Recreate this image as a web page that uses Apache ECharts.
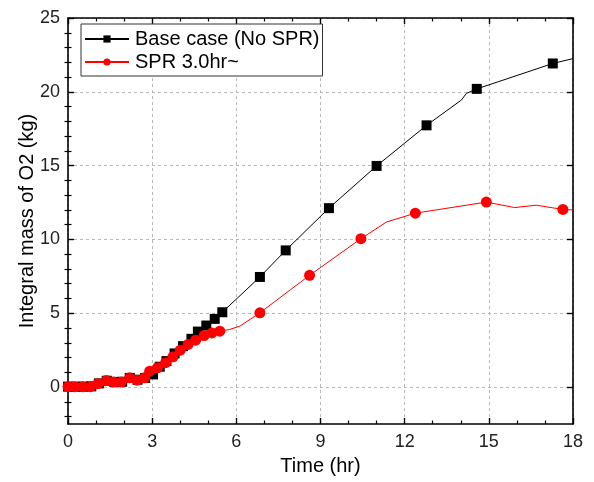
<!DOCTYPE html>
<html>
<head>
<meta charset="utf-8">
<script src="https://cdn.jsdelivr.net/npm/echarts@6/dist/echarts.min.js"></script>
<style>html,body{margin:0;padding:0;background:#fff}#c{width:594px;height:482px}</style>
</head>
<body>
<div id="c"></div>
<script>
// ---- data (time in hr, mass in kg) ----
var baseMarkTime = [0.00,0.27,0.55,0.83,1.10,1.38,1.65,1.93,2.20,2.48,2.75,3.03,3.27,3.51,3.80,4.10,4.40,4.63,4.93,5.23,5.50,6.84,7.76,9.30,11.00,12.78,14.57,17.28];
var baseMarkMass = [0.03,0.03,0.03,0.05,0.25,0.43,0.35,0.36,0.62,0.50,0.62,0.86,1.38,1.76,2.28,2.77,3.27,3.76,4.17,4.62,5.07,7.46,9.26,12.12,14.98,17.73,20.20,21.92];
var baseCurveTime = [14.02,14.20,14.97,18.00];
var baseCurveMass = [19.44,19.89,20.45,22.25];

var sprMarkTime = [0.00,0.24,0.53,0.80,1.07,1.37,1.63,1.90,2.20,2.46,2.73,2.91,3.19,3.48,3.74,4.00,4.28,4.55,4.85,5.13,5.41,6.84,8.61,10.44,12.38,14.91,17.64];
var sprMarkMass = [0.03,0.03,0.03,0.03,0.23,0.45,0.34,0.34,0.63,0.47,0.63,1.08,1.31,1.65,2.05,2.50,2.89,3.18,3.49,3.67,3.79,5.03,7.57,10.05,11.78,12.53,12.03];
var sprCurveTime = [5.75,6.12,11.35,15.92,16.69,18.00];
var sprCurveMass = [3.90,4.12,11.18,12.16,12.32,12.00];

var seriesNames = ['Base case (No SPR)', 'SPR 3.0hr~'];
var yTicks = [0,5,10,15,20,25];
var yMinorTicks = [-2,-1,1,2,3,4,6,7,8,9,11,12,13,14,16,17,18,19,21,22,23,24];

function build(mt, mm, ct, cm) {
  var pts = [];
  for (var i = 0; i < mt.length; i++) pts.push({value: [mt[i], mm[i]]});
  for (var j = 0; j < ct.length; j++) pts.push({value: [ct[j], cm[j]], symbol: 'none'});
  pts.sort(function (a, b) { return a.value[0] - b.value[0]; });
  return pts;
}

var FONT = 'Liberation Sans, Arial, sans-serif';
var chart = echarts.init(document.getElementById('c'));

function xAxisCfg(pos, show) {
  return {
    type: 'value', position: pos, min: 0, max: 18, interval: 3,
    axisLine: {show: true, onZero: false, lineStyle: {color: '#000', width: 1.6}},
    axisTick: {show: true, inside: true, length: 6, lineStyle: {color: '#000', width: 1.4}},
    minorTick: {show: true, splitNumber: 3, length: 3.5, lineStyle: {color: '#000', width: 1.2}},
    axisLabel: {show: show, color: '#222', fontSize: 18, fontFamily: FONT, margin: 9},
    splitLine: {show: show, lineStyle: {color: '#b8b8b8', type: [3, 3], width: 1}},
    name: show ? 'Time (hr)' : '', nameLocation: 'middle', nameGap: 32, nameMoveOverlap: false,
    nameTextStyle: {color: '#000', fontSize: 20, fontFamily: FONT}
  };
}
function yAxisCfg(pos, show) {
  return {
    type: 'value', position: pos, min: -2.5, max: 25,
    axisLine: {show: true, onZero: false, lineStyle: {color: '#000', width: 1.6}},
    axisTick: {show: true, inside: true, length: 6, lineStyle: {color: '#000', width: 1.4},
      customValues: yTicks},
    axisLabel: {show: show, color: '#222', fontSize: 18, fontFamily: FONT, margin: 8,
      customValues: yTicks},
    splitLine: {show: show, lineStyle: {color: '#b8b8b8', type: [3, 3], width: 1}},
    name: show ? 'Integral mass of O2 (kg)' : '', nameLocation: 'middle', nameGap: 31, nameMoveOverlap: false,
    nameTextStyle: {color: '#000', fontSize: 20, fontFamily: FONT}
  };
}
function yMinorCfg(pos) {
  return {
    type: 'value', position: pos, min: -2.5, max: 25,
    axisLine: {show: false},
    axisTick: {show: true, inside: true, length: 3.5, lineStyle: {color: '#000', width: 1.2},
      customValues: yMinorTicks},
    axisLabel: {show: false},
    splitLine: {show: false}
  };
}

chart.setOption({
  animation: false,
  backgroundColor: '#fff',
  grid: {left: 68, right: 21, top: 18, bottom: 58, containLabel: false},
  xAxis: [xAxisCfg('bottom', true), xAxisCfg('top', false)],
  yAxis: [yAxisCfg('left', true), yAxisCfg('right', false), yMinorCfg('left'), yMinorCfg('right')],
  legend: {
    left: 81, top: 24, orient: 'vertical',
    backgroundColor: '#fff', borderColor: '#333', borderWidth: 1,
    padding: [5, 3, 4, 3], itemGap: 3, itemWidth: 44, itemHeight: 9,
    textStyle: {color: '#000', fontSize: 20, fontFamily: FONT, padding: [0, 0, 0, 1]},
    data: seriesNames
  },
  series: [
    {
      name: seriesNames[0], type: 'line', xAxisIndex: 0, yAxisIndex: 0,
      data: build(baseMarkTime, baseMarkMass, baseCurveTime, baseCurveMass),
      symbol: 'rect', symbolSize: 10, showAllSymbol: true,
      lineStyle: {color: '#000', width: 1}, itemStyle: {color: '#000'}
    },
    {
      name: seriesNames[1], type: 'line', xAxisIndex: 0, yAxisIndex: 0,
      data: build(sprMarkTime, sprMarkMass, sprCurveTime, sprCurveMass),
      symbol: 'circle', symbolSize: 11, showAllSymbol: true,
      lineStyle: {color: '#ff0000', width: 1}, itemStyle: {color: '#ff0000'}
    }
  ]
});
</script>
</body>
</html>
